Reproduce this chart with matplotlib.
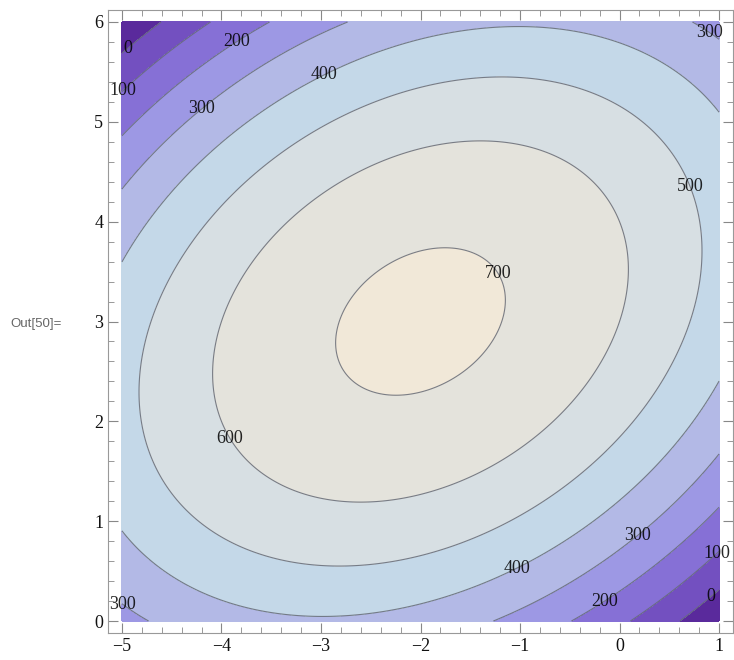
import numpy as np
import matplotlib.pyplot as plt
from matplotlib.ticker import MultipleLocator

plt.rcParams['font.family'] = ['Liberation Serif', 'DejaVu Serif']
plt.rcParams['axes.unicode_minus'] = True

# coefficients of the surface:
# z = cxx*x^2 + cyy*y^2 + cxy*x*y + cx*x + cy*y + c0
cxx, cyy, cxy = -30, -40, 20
cx, cy, c0 = -180, 280, 120

x_range = [-5, 1]
y_range = [0, 6]

levels = [0, 100, 200, 300, 400, 500, 600, 700]
band_colors = ['#5a2a9c', '#7350c0', '#8670d6', '#9d98e4', '#b3b9e6',
               '#c4d8e8', '#d7dfe3', '#e4e3dc', '#f1e8d8']

# where the level labels sit (data coords)
label_spots = [(-4.95, 5.74), (-5.0, 5.32), (-3.84, 5.8), (-4.19, 5.12),
               (-2.96, 5.45), (0.86, 5.83), (0.70, 4.35), (-1.23, 3.48),
               (-3.92, 1.83), (0.18, 0.86), (0.98, 0.68), (-1.04, 0.54),
               (-0.16, 0.21), (0.92, 0.24), (-5.0, 0.16)]

xs = np.linspace(x_range[0], x_range[1], 400)
ys = np.linspace(y_range[0], y_range[1], 400)
X, Y = np.meshgrid(xs, ys)
Z = cxx * X**2 + cyy * Y**2 + cxy * X * Y + cx * X + cy * Y + c0

fig = plt.figure(figsize=(7.34, 6.6), dpi=100)
ax = fig.add_axes([108 / 734, 27 / 660, 625 / 734, 623 / 660])

fill_levels = [Z.min() - 1] + levels + [Z.max() + 1]
ax.contourf(X, Y, Z, levels=fill_levels, colors=band_colors)
cs = ax.contour(X, Y, Z, levels=levels, colors='#656a76', linewidths=0.8, alpha=0.85)
labels = ax.clabel(cs, manual=label_spots, inline=False, fmt='%d',
                   fontsize=13, colors='black')
for t in labels:
    t.set_rotation(0)
    t.set_clip_on(False)

ax.set_xlim(-5.14, 1.14)
ax.set_ylim(-0.12, 6.12)

ax.xaxis.set_major_locator(MultipleLocator(1))
ax.xaxis.set_minor_locator(MultipleLocator(0.2))
ax.yaxis.set_major_locator(MultipleLocator(1))
ax.yaxis.set_minor_locator(MultipleLocator(0.2))
ax.tick_params(which='both', direction='in', top=True, right=True,
               color='#888888', labelsize=13, labelcolor='#111111')
ax.tick_params(which='major', length=7, width=0.8)
ax.tick_params(which='minor', length=4, width=0.6)
for side in ax.spines.values():
    side.set_color('#999999')
    side.set_linewidth(0.8)

fig.text(10 / 734, 1 - 327 / 660, 'Out[50]=', fontsize=9.5, color='#666666',
         family='Liberation Sans', va='baseline')

fig.savefig('out.png', dpi=100)
